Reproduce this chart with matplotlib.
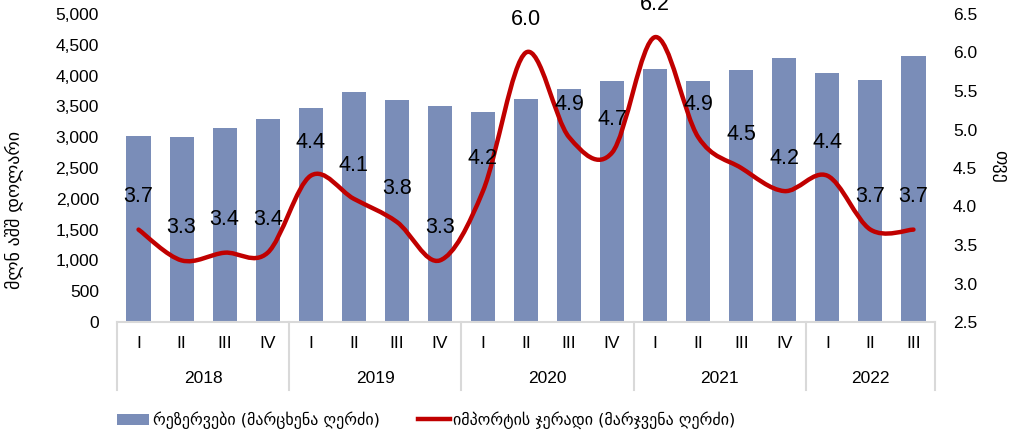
import numpy as np
import matplotlib.pyplot as plt
from matplotlib.path import Path
from matplotlib.patches import PathPatch
from matplotlib.lines import Line2D
from matplotlib.patches import Patch
from matplotlib import font_manager

plt.rcParams['font.family'] = ['Liberation Sans', 'DejaVu Sans']

years = ['2018', '2019', '2020', '2021', '2022']
quarters = ['I', 'II', 'III', 'IV'] * 4 + ['I', 'II', 'III']
reserves = [3024, 3008, 3155, 3295, 3479, 3739, 3609, 3506, 3404, 3620,
            3777, 3918, 4107, 3918, 4085, 4280, 4042, 3929, 4323]
import_months = [3.7, 3.3, 3.4, 3.4, 4.4, 4.1, 3.8, 3.3, 4.2, 6.0,
                 4.9, 4.7, 6.2, 4.9, 4.5, 4.2, 4.4, 3.7, 3.7]
year_sizes = [4, 4, 4, 4, 3]

bar_color = '#7A8DB8'
line_color = '#C00000'
grid_color = '#D9D9D9'

names = {f.name for f in font_manager.fontManager.ttflist}
geo_family = ['DejaVu Sans Condensed'] if 'DejaVu Sans Condensed' in names else ['DejaVu Sans']

fig = plt.figure(figsize=(10.09, 4.36), dpi=100)
ax = fig.add_axes([117 / 1009, 1 - 322 / 436, (935 - 117) / 1009, (322 - 14) / 436])
ax2 = ax.twinx()

x = np.arange(len(reserves))
ax.bar(x, reserves, width=0.56, color=bar_color, zorder=2)
ax.set_xlim(-0.5, len(reserves) - 0.5)
ax.set_ylim(0, 5000)
ax.set_yticks(range(0, 5001, 500))
ax.set_yticklabels([f'{v:,}' for v in range(0, 5001, 500)])
ax2.set_ylim(2.5, 6.5)
ax2.set_yticks(np.arange(2.5, 6.51, 0.5))
ax2.set_yticklabels([f'{v:.1f}' for v in np.arange(2.5, 6.51, 0.5)])

for a in (ax, ax2):
    for s in a.spines.values():
        s.set_visible(False)
    a.tick_params(axis='y', length=0, labelsize=12.5, pad=13)
ax.set_xticks([])

# smoothed line (Catmull-Rom -> Bezier)
pts = np.column_stack([x, import_months]).astype(float)
verts = [tuple(pts[0])]
codes = [Path.MOVETO]
n = len(pts)
for i in range(n - 1):
    p0 = pts[max(i - 1, 0)]
    p1 = pts[i]
    p2 = pts[i + 1]
    p3 = pts[min(i + 2, n - 1)]
    c1 = p1 + (p2 - p0) / 6
    c2 = p2 - (p3 - p1) / 6
    verts += [tuple(c1), tuple(c2), tuple(p2)]
    codes += [Path.CURVE4] * 3
ax2.add_patch(PathPatch(Path(verts, codes), facecolor='none', edgecolor=line_color,
                        lw=3.2, capstyle='round', joinstyle='round', zorder=3))

for xi, v in zip(x, import_months):
    ax2.annotate(f'{v:.1f}', (xi, v), xytext=(0, 33), textcoords='offset pixels',
                 ha='center', va='center', fontsize=15.5, color='black',
                 annotation_clip=False, zorder=4)

# category axis
tr = ax.get_xaxis_transform()
ax.plot([-0.5, len(x) - 0.5], [0, 0], color=grid_color, lw=1.5, transform=tr, clip_on=False)
bounds = np.concatenate([[0], np.cumsum(year_sizes)]) - 0.5
for b in bounds:
    ax.plot([b, b], [0, -68 / 308], color=grid_color, lw=1.5, transform=tr, clip_on=False)
for xi, q in zip(x, quarters):
    ax.text(xi, -21 / 308, q, transform=tr, ha='center', va='center', fontsize=12.5)
for i, yr in enumerate(years):
    ax.text((bounds[i] + bounds[i + 1]) / 2, -56 / 308, yr, transform=tr,
            ha='center', va='center', fontsize=12.5)

fig.text(15 / 1009, 1 - 210 / 436, 'მლნ აშშ დოლარი', rotation=90, ha='center', va='center',
         fontsize=13, family=geo_family)
fig.text(1000 / 1009, 1 - 166 / 436, 'თვე', rotation=270, ha='center', va='center',
         fontsize=13, family=geo_family)

handles = [Patch(facecolor=bar_color), Line2D([], [], color=line_color, lw=3.2)]
labels = ['რეზერვები (მარცხენა ღერძი)', 'იმპორტის ჯერადი (მარჯვენა ღერძი)']
fig.legend(handles, labels, loc='center left', bbox_to_anchor=(103 / 1009, 1 - 420 / 436),
           ncol=2, frameon=False, prop={'family': geo_family, 'size': 11.5},
           handlelength=2.0, handletextpad=0.2, columnspacing=2.4)

fig.savefig('out.png', dpi=100)
